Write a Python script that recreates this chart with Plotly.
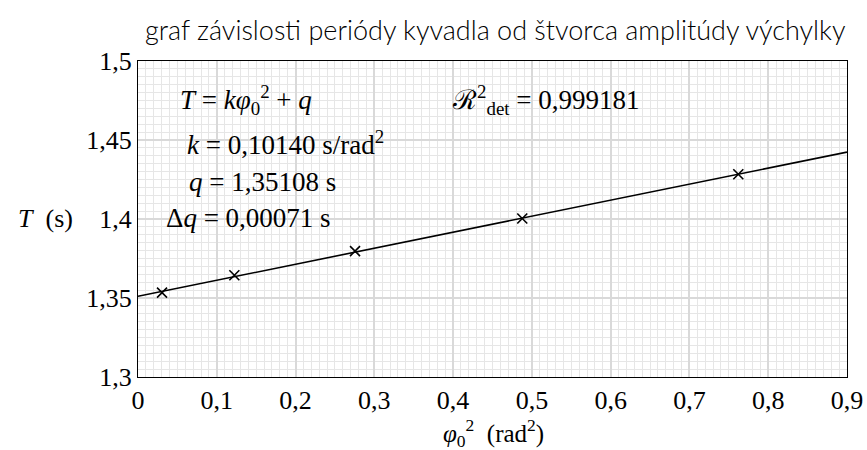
import plotly.graph_objects as go

# data
phi2 = [0.0305, 0.1223, 0.2755, 0.4878, 0.762]
T_meas = [1.3534, 1.3644, 1.3797, 1.4003, 1.4283]
fit_x = [0.0, 0.9]
fit_y = [1.35108, 1.44234]

x_ticks = [0, 0.1, 0.2, 0.3, 0.4, 0.5, 0.6, 0.7, 0.8, 0.9]
x_labels = ["0", "0,1", "0,2", "0,3", "0,4", "0,5", "0,6", "0,7", "0,8", "0,9"]
y_ticks = [1.3, 1.35, 1.4, 1.45, 1.5]
y_labels = ["1,3", "1,35", "1,4", "1,45", "1,5"]

SERIF = "Liberation Serif, DejaVu Serif, serif"
L, T, W, H = 138, 61, 709, 316

fig = go.Figure()
fig.add_trace(go.Scatter(x=fit_x, y=fit_y, mode="lines",
                         line=dict(color="black", width=1.6), showlegend=False))
fig.add_trace(go.Scatter(x=phi2, y=T_meas, mode="markers",
                         marker=dict(symbol="x-thin", size=10, line=dict(color="black", width=1.6)),
                         showlegend=False))

fig.update_layout(
    width=867, height=450,
    margin=dict(l=L, r=867 - L - W, t=T, b=450 - T - H, autoexpand=False),
    paper_bgcolor="white", plot_bgcolor="white",
    font=dict(family=SERIF, color="black"),
)
fig.update_xaxes(range=[0, 0.9], tickvals=x_ticks, ticktext=x_labels, automargin=False,
                 tickfont=dict(family=SERIF, size=26),
                 showline=True, linecolor="black", linewidth=1.2, mirror=True,
                 showgrid=True, gridcolor="#d9d9d9", gridwidth=2, zeroline=False,
                 ticks="",
                 minor=dict(dtick=0.01, showgrid=True, gridcolor="#e6e6e6", gridwidth=1))
fig.update_yaxes(range=[1.3, 1.5], tickvals=y_ticks, ticktext=y_labels, automargin=False,
                 tickfont=dict(family=SERIF, size=26),
                 showline=True, linecolor="black", linewidth=1.2, mirror=True,
                 showgrid=True, gridcolor="#d9d9d9", gridwidth=2, zeroline=False,
                 ticks="",
                 minor=dict(dtick=0.005, showgrid=True, gridcolor="#e6e6e6", gridwidth=1))


def px2paper(px, py):
    return (px - L) / W, 1 - (py - T) / H


# title
tx, ty = px2paper(495, 30)
fig.add_annotation(x=tx, y=ty, xref="paper", yref="paper", showarrow=False,
                   text="graf závislosti periódy kyvadla od štvorca amplitúdy výchylky",
                   xanchor="center", yanchor="middle",
                   font=dict(family="Lato", size=27, weight=300, color="black"))
# axis titles
ax_, ay_ = px2paper(45, 218)
fig.add_annotation(x=ax_, y=ay_, xref="paper", yref="paper", showarrow=False,
                   text="<i>T</i>  (s)", xanchor="center", yanchor="middle",
                   font=dict(family=SERIF, size=26, color="black"))
bx_, by_ = px2paper(493, 433)
fig.add_annotation(x=bx_, y=by_, xref="paper", yref="paper", showarrow=False,
                   text="<i>φ</i><sub>0</sub><sup>2</sup>  (rad<sup>2</sup>)",
                   xanchor="center", yanchor="middle",
                   font=dict(family=SERIF, size=25, color="black"))

anns = [
    (178, 100, "<i>T</i> = <i>kφ</i><sub>0</sub><sup>2</sup> + <i>q</i>"),
    (185, 143, "<i>k</i> = 0,10140 s/rad<sup>2</sup>"),
    (187, 182, "<i>q</i> = 1,35108 s"),
    (164, 218, "Δ<i>q</i> = 0,00071 s"),
    (450, 100, "ℛ<sup>2</sup><sub>det</sub> = 0,999181"),
]
for px, py, txt in anns:
    ax, ay = px2paper(px, py)
    fig.add_annotation(x=ax, y=ay, xref="paper", yref="paper",
                       text=txt, showarrow=False, xanchor="left", yanchor="middle",
                       font=dict(family=SERIF, size=27, color="black"))

fig.write_html("out.html", config={"displayModeBar": False},
               post_script="document.body.style.margin='0';")
